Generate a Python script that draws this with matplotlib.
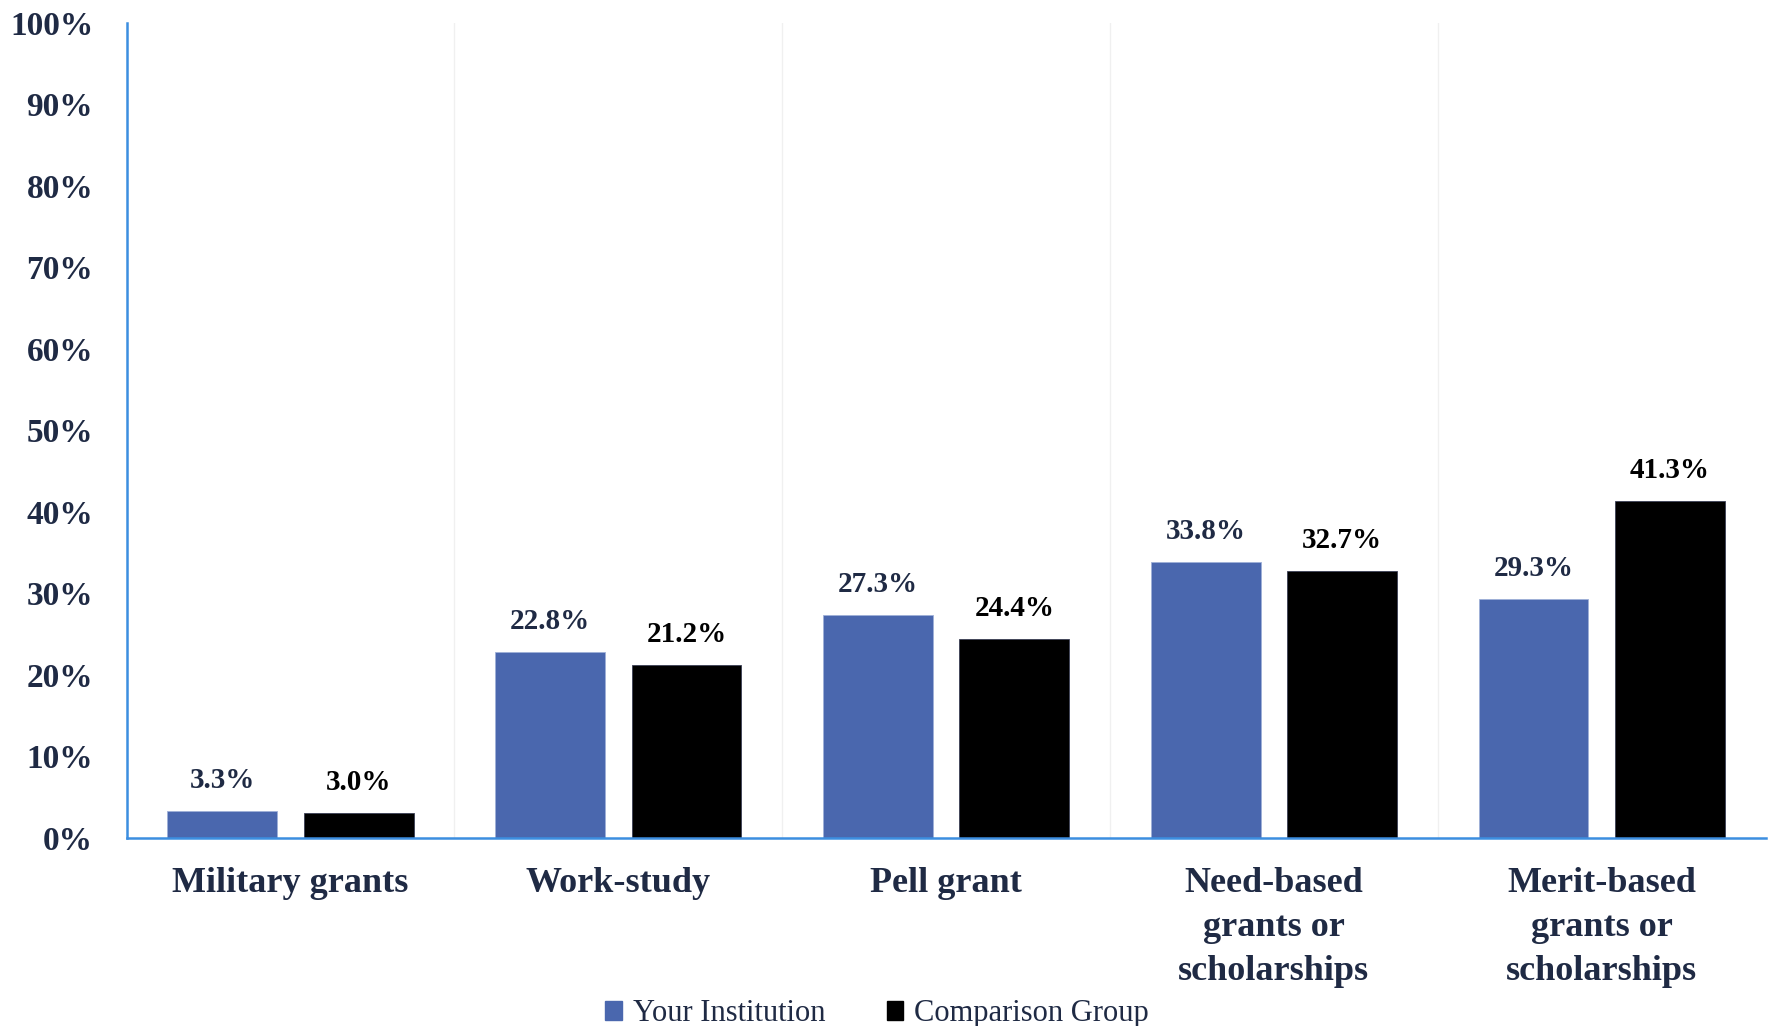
import numpy as np
import matplotlib
matplotlib.use('Agg')
import matplotlib.pyplot as plt
from matplotlib.patches import Patch

categories = ['Military grants', 'Work-study', 'Pell grant',
              'Need-based\ngrants or\nscholarships', 'Merit-based\ngrants or\nscholarships']
your_inst = [3.3, 22.8, 27.3, 33.8, 29.3]
comparison = [3.0, 21.2, 24.4, 32.7, 41.3]
series_names = ['Your Institution', 'Comparison Group']

BLUE = '#4a67ae'
NAVY = '#1f2a44'
AXIS_BLUE = '#3c8ee0'

plt.rcParams['font.family'] = ['Liberation Serif', 'DejaVu Serif']

fig = plt.figure(figsize=(17.72, 10.26), dpi=100)
ax = fig.add_axes([0.0714, 0.1837, 0.925, 0.7943])

x = np.arange(len(categories))
width = 0.335
off = 0.208
b1 = ax.bar(x - off, your_inst, width, color=BLUE, edgecolor='#9fb0d8', linewidth=0.6)
b2 = ax.bar(x + off, comparison, width, color='black', edgecolor='#3a3f55', linewidth=0.6)

for bar, v in zip(b1, your_inst):
    ax.annotate(f'{v:.1f}%', (bar.get_x() + bar.get_width() / 2, v),
                xytext=(0, 12), textcoords='offset points', ha='center', va='bottom',
                fontsize=21, fontweight='bold', color=NAVY)
for bar, v in zip(b2, comparison):
    ax.annotate(f'{v:.1f}%', (bar.get_x() + bar.get_width() / 2, v),
                xytext=(0, 12), textcoords='offset points', ha='center', va='bottom',
                fontsize=21, fontweight='bold', color='black')

# faint separators between categories
for b in x[:-1] + 0.5:
    ax.axvline(b, color='#f0f0f0', linewidth=1, zorder=0)

ax.set_xlim(-0.5, len(categories) - 0.5)
ax.set_ylim(0, 100)
ax.set_yticks(np.arange(0, 101, 10))
ax.set_yticklabels([f'{t}%' for t in range(0, 101, 10)])
ax.set_xticks(x)
ax.set_xticklabels(categories, linespacing=1.45)

ax.tick_params(axis='y', length=0, pad=24, labelsize=24, labelcolor=NAVY)
ax.tick_params(axis='x', length=0, pad=21, labelsize=26, labelcolor=NAVY)
for lab in ax.get_yticklabels() + ax.get_xticklabels():
    lab.set_fontweight('bold')
for lab in ax.get_xticklabels():
    lab.set_verticalalignment('top')

for s in ['top', 'right']:
    ax.spines[s].set_visible(False)
for s in ['left', 'bottom']:
    ax.spines[s].set_color(AXIS_BLUE)
    ax.spines[s].set_linewidth(1.8)

handles = [Patch(color=BLUE), Patch(color='black')]
leg = fig.legend(handles, series_names, loc='center', bbox_to_anchor=(0.495, 0.012),
                 ncol=2, frameon=False, fontsize=22, handlelength=0.55, handleheight=0.55,
                 handletextpad=0.35, columnspacing=2.0)
for t in leg.get_texts():
    t.set_color(NAVY)

plt.savefig('out.png', dpi=100)
